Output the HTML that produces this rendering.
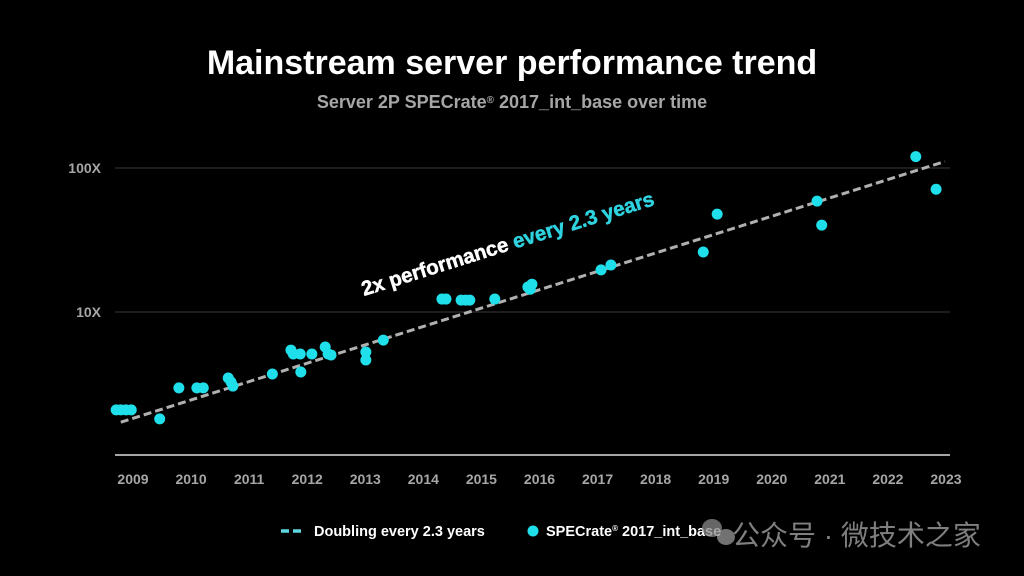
<!DOCTYPE html>
<html><head><meta charset="utf-8"><style>
html,body{margin:0;padding:0;background:#000;width:1024px;height:576px;overflow:hidden}
svg{display:block;font-family:"Liberation Sans","Noto Sans CJK SC",sans-serif}
</style></head><body>
<svg id="chart" width="1024" height="576" viewBox="0 0 1024 576">
<text x="512" y="74" text-anchor="middle" fill="#fff" font-size="34" font-weight="bold">Mainstream server performance trend</text>
<text x="512" y="108" text-anchor="middle" fill="#a6a6a6" font-size="18" font-weight="bold">Server 2P SPECrate<tspan font-size="10" dy="-5">®</tspan><tspan dy="5"> 2017_int_base over time</tspan></text>
<g id="grid"></g><g id="trend"></g><g id="pts"></g>
<text transform="translate(364,296) rotate(-17.4)" font-size="20.5" font-weight="bold" fill="#fff" stroke="#fff" stroke-width="0.5">2x performance <tspan fill="#2fd3e0" stroke="#2fd3e0">every 2.3 years</tspan></text>
<g>
<line x1="281" y1="531" x2="304" y2="531" stroke="#5ed8e0" stroke-width="3.5" stroke-dasharray="8,4"/>
<text x="314" y="536" fill="#fff" font-size="14.5" font-weight="bold">Doubling every 2.3 years</text>
<circle cx="533" cy="531" r="5.5" fill="#1fe0ea"/>
<text x="546" y="536" fill="#fff" font-size="14.5" font-weight="bold">SPECrate<tspan font-size="8" dy="-5">®</tspan><tspan dy="5"> 2017_int_base</tspan></text>
</g>
<g opacity="0.75">
<ellipse cx="712" cy="528" rx="10" ry="9" fill="#888"/><ellipse cx="726" cy="537" rx="9" ry="8" fill="#999"/>
<text x="732" y="545" fill="#aaa" font-size="28">公众号 · 微技术之家</text>
</g>
</svg>
<script>
const years=[2009,2010,2011,2012,2013,2014,2015,2016,2017,2018,2019,2020,2021,2022,2023];
const yTicks=[100,10];
const yTickLabels=["100X","10X"];
const ptYears=[2008.71,2008.79,2008.88,2008.97,2009.46,2009.79,2010.10,2010.21,2010.64,2010.69,2010.72,2011.40,2011.72,2011.76,2011.88,2012.08,2012.31,2012.36,2012.41,2011.89,2013.01,2013.01,2013.31,2014.32,2014.39,2014.65,2014.73,2014.80,2015.23,2015.80,2015.84,2015.87,2017.06,2017.23,2018.82,2019.06,2020.78,2020.86,2022.48,2022.83];
const ptValues=[2.09,2.09,2.09,2.09,1.81,2.97,2.97,2.97,3.48,3.26,3.06,3.71,5.44,5.11,5.11,5.11,5.71,5.11,5.03,3.83,5.27,4.64,6.38,12.3,12.3,12.1,12.1,12.1,12.3,14.9,14.4,15.6,19.6,21.2,26.1,47.8,58.9,40.1,120,71.2];
const trendAnchorYear=2015.885, trendAnchorValue=13.8, doublingYears=2.36;
const trendStart=2008.79, trendEnd=2022.98;
const NS="http://www.w3.org/2000/svg";
const X=t=>133+(t-2009)*58.07;
const Y=v=>456-144*Math.log10(v);
function mk(tag,attrs,parent){const e=document.createElementNS(NS,tag);for(const k in attrs)e.setAttribute(k,attrs[k]);parent.appendChild(e);return e;}
const grid=document.getElementById('grid');
yTicks.forEach((v,i)=>{
 const l=mk('line',{x1:115,x2:950,y1:Y(v),y2:Y(v),stroke:'#3a3a3a','stroke-width':1},grid);
 
 
 const t=mk('text',{x:101,y:Y(v)+5,'text-anchor':'end',fill:'#a6a6a6','font-size':14,'font-weight':'bold'},grid);
 t.textContent=yTickLabels[i];
 
 
});
const ax=mk('line',{x1:115,x2:950,y1:455,y2:455,stroke:'#ddd','stroke-width':1.5},grid);


years.forEach(y=>{
 const t=mk('text',{x:X(y),y:484,'text-anchor':'middle',fill:'#a6a6a6','font-size':14,'font-weight':'bold'},grid);
 t.textContent=y;
 
 
});
const tv=t=>trendAnchorValue*Math.pow(2,(t-trendAnchorYear)/doublingYears);
const tl=mk('line',{x1:X(trendStart),y1:Y(tv(trendStart)),x2:X(trendEnd),y2:Y(tv(trendEnd)),stroke:'#b0b0b0','stroke-width':3,'stroke-dasharray':'8,4'},document.getElementById('trend'));


const pts=document.getElementById('pts');
ptYears.forEach((t,i)=>{
 const c=mk('circle',{cx:X(t),cy:Y(ptValues[i]),r:5.5,fill:'#1fe0ea'},pts);
 
 
});
</script>
</body></html>
